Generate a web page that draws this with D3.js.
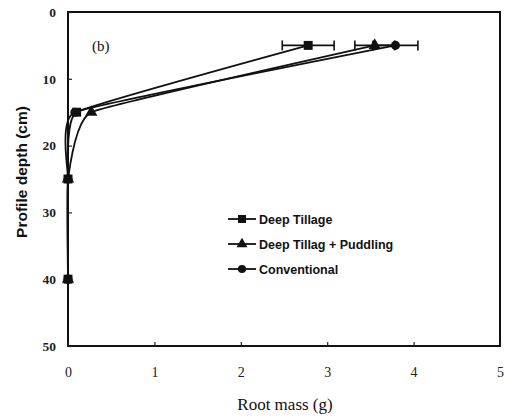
<!DOCTYPE html>
<html>
<head>
<meta charset="utf-8">
<script src="https://cdn.jsdelivr.net/npm/d3@7"></script>
<style>
  body { margin: 0; background: #fff; }
</style>
</head>
<body>
<script>
// depths (cm) sampled for every treatment
var depths = [5, 15, 25, 40];
var deepTillage = [2.78, 0.1, 0.0, 0.0];
var deepTillagePuddling = [3.55, 0.27, 0.0, 0.0];
var conventional = [3.79, 0.08, 0.0, 0.0];
// error bars at the surface layer only
var errDeepTillage = [0.3, 0, 0, 0];
var errPuddling = [0.23, 0, 0, 0];
var errConventional = [0.26, 0, 0, 0];
var xTicks = [0, 1, 2, 3, 4, 5];
var yTicks = [0, 10, 20, 30, 40, 50];

var width = 505, height = 419;
var margin = {top: 12, right: 5, bottom: 73, left: 68};
var w = width - margin.left - margin.right,
  h = height - margin.top - margin.bottom;

var svg = d3.select(document.body).append('svg')
  .attr('width', width).attr('height', height);

var x = d3.scaleLinear().domain([0, 5]).range([0, w]);
var y = d3.scaleLinear().domain([0, 50]).range([0, h]);

var g = svg.append('g')
  .attr('transform', 'translate(' + margin.left + ',' + margin.top + ')');

// frame
g.append('rect').attr('width', w).attr('height', h)
  .attr('fill', 'none').attr('stroke', '#111').attr('stroke-width', 2);

// x axis
var xa = g.append('g').attr('transform', 'translate(0,' + h + ')')
  .call(d3.axisBottom(x).tickValues(xTicks).tickSize(-4).tickPadding(21).tickFormat(d3.format('d')));
// y axis
var ya = g.append('g')
  .call(d3.axisLeft(y).tickValues(yTicks).tickSize(-4).tickPadding(12).tickFormat(d3.format('d')));
[xa, ya].forEach(function (a) {
  a.select('.domain').remove();
  a.selectAll('line').attr('stroke', '#222').attr('stroke-width', 1.2);
  a.selectAll('text').attr('font-family', 'Liberation Serif').attr('font-size', 13.5)
    .attr('font-weight', 'bold').attr('fill', '#222');
});
xa.selectAll('text').attr('font-weight', 'normal').attr('font-size', 14);

// axis titles
svg.append('text').attr('x', 285).attr('y', 410).attr('text-anchor', 'middle')
  .attr('font-family', 'Liberation Serif').attr('font-size', 17).attr('fill', '#111')
  .text('Root mass (g)');
svg.append('text').attr('transform', 'translate(27,172) rotate(-90)').attr('text-anchor', 'middle')
  .attr('font-family', 'Liberation Sans').attr('font-weight', 'bold').attr('font-size', 15.5).attr('fill', '#111')
  .text('Profile depth (cm)');
g.append('text').attr('x', 24).attr('y', 39)
  .attr('font-family', 'Liberation Serif').attr('font-size', 15).attr('fill', '#111')
  .text('(b)');

var series = [
  {name: 'Deep Tillage', vals: deepTillage, err: errDeepTillage, sym: d3.symbolSquare, size: 80},
  {name: 'Deep Tillag + Puddling', vals: deepTillagePuddling, err: errPuddling, sym: d3.symbolTriangle, size: 65},
  {name: 'Conventional', vals: conventional, err: errConventional, sym: d3.symbolCircle, size: 65}
];

var line = d3.line()
  .x(function (d) { return x(d[0]); })
  .y(function (d) { return y(d[1]); })
  .curve(d3.curveCardinal.tension(0.7));

series.forEach(function (s) {
  var pts = depths.map(function (dp, i) { return [s.vals[i], dp, s.err[i]]; });
  g.append('path').datum(pts).attr('d', line)
    .attr('fill', 'none').attr('stroke', '#111').attr('stroke-width', 1.8);
  pts.forEach(function (p) {
    if (p[2] > 0) {
      var y0 = y(p[1]);
      g.append('line').attr('x1', x(p[0] - p[2])).attr('x2', x(p[0] + p[2]))
        .attr('y1', y0).attr('y2', y0).attr('stroke', '#111').attr('stroke-width', 1.6);
      [p[0] - p[2], p[0] + p[2]].forEach(function (e) {
        g.append('line').attr('x1', x(e)).attr('x2', x(e))
          .attr('y1', y0 - 5).attr('y2', y0 + 5).attr('stroke', '#111').attr('stroke-width', 1.6);
      });
    }
  });
  g.selectAll(null).data(pts).enter().append('path')
    .attr('d', d3.symbol().type(s.sym).size(s.size))
    .attr('transform', function (p) { return 'translate(' + x(p[0]) + ',' + y(p[1]) + ')'; })
    .attr('fill', '#111');
});

// legend
var lg = svg.append('g').attr('transform', 'translate(228,219)');
series.forEach(function (s, i) {
  var row = lg.append('g').attr('transform', 'translate(0,' + (i * 25) + ')');
  row.append('line').attr('x1', 0).attr('x2', 28).attr('stroke', '#111').attr('stroke-width', 1.8);
  row.append('path').attr('d', d3.symbol().type(s.sym).size(s.size * 0.8))
    .attr('transform', 'translate(14,0)').attr('fill', '#111');
  row.append('text').attr('x', 31).attr('y', 5)
    .attr('font-family', 'Liberation Sans').attr('font-weight', 'bold').attr('font-size', 12.5)
    .attr('fill', '#111').text(s.name);
});
</script>
</body>
</html>
